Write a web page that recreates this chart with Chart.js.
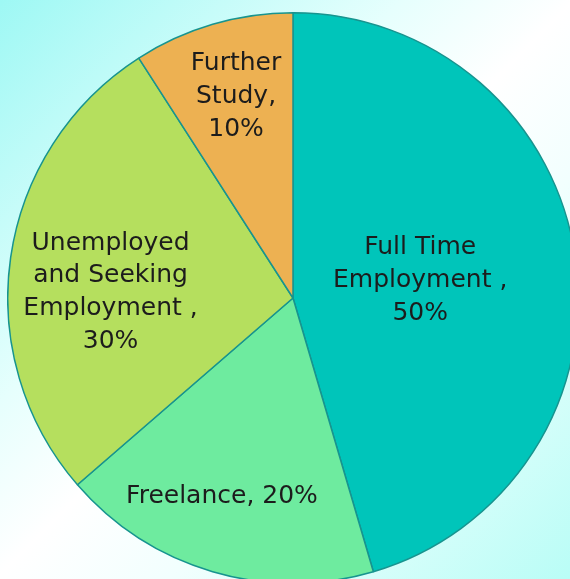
<!DOCTYPE html>
<html>
<head>
<meta charset="utf-8">
<script src="https://cdn.jsdelivr.net/npm/chart.js@4/dist/chart.umd.min.js"></script>
<style>
  html, body {
    margin: 0;
    width: 570px;
    height: 579px;
    overflow: hidden;
  }
  body {
    position: relative;
    background: linear-gradient(135deg, #9ef8f4 0%, #e6fffd 35%, #ffffff 50%, #f2fffe 65%, #b9fdf6 100%);
  }
  #wrap {
    position: absolute;
    left: 7px;
    top: 12px;
    width: 572px;
    height: 572px;
  }
</style>
</head>
<body>
<div id="wrap"><canvas id="pie" width="572" height="572"></canvas></div>
<script>
// categories, values, slice colours
const categories = ['Full Time Employment', 'Freelance', 'Unemployed and Seeking Employment', 'Further Study'];
const values = [50, 20, 30, 10];
const labelLines = [
    ['Full Time', 'Employment ,', '50%'],
    ['Freelance, 20%'],
    ['Unemployed', 'and Seeking', 'Employment ,', '30%'],
    ['Further', 'Study,', '10%']
];
const sliceColors = ['#00c5ba', '#6eeb9f', '#b5df5e', '#edb152'];

// where each label sits: [fraction of radius, angle nudge in degrees]
const labelAnchor = [[0.45, 0.4], [0.74, 3.3], [0.64, -6.4], [0.735, 0.6]];

const sliceLabels = {
    id: 'sliceLabels',
    afterDatasetsDraw(chart) {
        const { ctx } = chart;
        const arcs = chart.getDatasetMeta(0).data;
        ctx.save();
        ctx.font = '25px "DejaVu Sans", sans-serif';
        ctx.fillStyle = '#1c1c1c';
        ctx.textAlign = 'center';
        ctx.textBaseline = 'middle';
        const lineH = 32.8;
        arcs.forEach((arc, i) => {
            const p = arc.getProps(['x', 'y', 'startAngle', 'endAngle', 'outerRadius'], true);
            const a = (p.startAngle + p.endAngle) / 2 + labelAnchor[i][1] * Math.PI / 180;
            const r = p.outerRadius * labelAnchor[i][0];
            const cx = p.x + Math.cos(a) * r;
            const cy = p.y + Math.sin(a) * r;
            const lines = labelLines[i];
            const top = cy - (lines.length - 1) * lineH / 2;
            lines.forEach((t, k) => ctx.fillText(t, cx, top + k * lineH));
        });
        ctx.restore();
    }
};

new Chart(document.getElementById('pie'), {
    type: 'pie',
    data: {
        labels: categories,
        datasets: [{
            data: values,
            backgroundColor: sliceColors,
            borderColor: '#17948f',
            borderWidth: 1.5
        }]
    },
    options: {
        responsive: false,
        animation: false,
        layout: { padding: 0 },
        plugins: {
            legend: { display: false },
            tooltip: { enabled: false }
        }
    },
    plugins: [sliceLabels]
});
</script>
</body>
</html>
